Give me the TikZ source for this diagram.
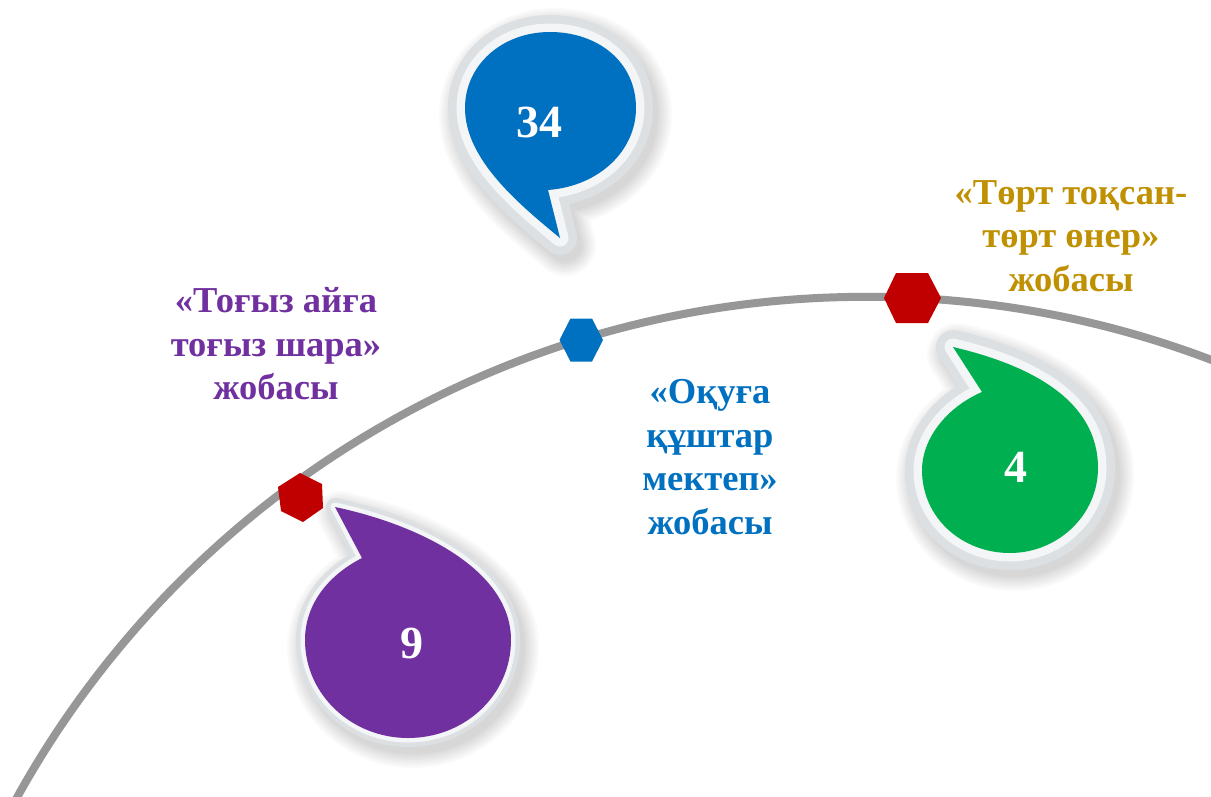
\documentclass[tikz,border=0pt]{standalone}
\usepackage{fontspec}
\setmainfont{Liberation Serif}
\definecolor{arcgray}{HTML}{979797}
\definecolor{bordgray}{HTML}{DCE0E2}
\definecolor{bordlight}{HTML}{F3F5F6}
\definecolor{cblue}{HTML}{0070C0}
\definecolor{cgreen}{HTML}{00B050}
\definecolor{cpurple}{HTML}{7030A0}
\definecolor{cred}{HTML}{C00000}
\definecolor{cgold}{HTML}{BF9000}
\tikzset{
  numtxt/.style={font=\bfseries\fontsize{46}{46}\selectfont, text=white, inner sep=0pt, anchor=base},
  labtxt/.style={font=\bfseries\fontsize{36.5}{43.5}\selectfont, align=center, inner sep=0pt},
  arcline/.style={draw=arcgray, line width=8pt},
  hexred/.style={fill=cred},
  hexblue/.style={fill=cblue},
}
\newcommand\mybubble[3]{%
  \foreach \k in {0,...,7}{%
    \pgfmathsetmacro\lw{2*#3+4*\k}%
    \path[fill=black, fill opacity=0.02, draw=black, draw opacity=0.02, line width=\lw pt, line join=round, shift={(5,7)}] #1;
  }%
  \path[draw=bordgray, line width=2*#3 pt, line join=round] #1;
  \path[draw=bordlight, line width=#3 pt, line join=round] #1;
  \path[fill=#2] #1;
}
\begin{document}
\begin{tikzpicture}[x=1pt,y=-1pt]
\useasboundingbox (0,0) rectangle (1211,796);
\fill[white] (0,0) rectangle (1211,796);
\clip (0,0) rectangle (1211,796);
\coordinate (arccenter) at (866.4,1267.3);
\draw[arcline] (arccenter) circle[radius=970.5pt];
% bubbles
\mybubble{(560,238) -- (548,190) .. controls (600,186) and (636,150) .. (636,108) .. controls (636,62) and (598,32) .. (550,32) .. controls (502,32) and (465,65) .. (465,108) .. controls (465,160) and (520,205) .. (560,238) -- cycle}{cblue}{17}
\mybubble{(953,347) -- (982,392) .. controls (945,408) and (922,440) .. (922,470) .. controls (922,518) and (962,553) .. (1010,553) .. controls (1058,553) and (1098,515) .. (1098,468) .. controls (1098,400) and (1030,365) .. (953,347) -- cycle}{cgreen}{17}
\mybubble{(335,507) -- (362,558) .. controls (325,577) and (305,607) .. (305,640) .. controls (305,695) and (352,738) .. (408,738) .. controls (465,738) and (511,695) .. (511,640) .. controls (511,570) and (420,525) .. (335,507) -- cycle}{cpurple}{9}
% hexagons
\fill[hexblue] (559.5,340) -- (570.5,318.5) -- (592,318.5) -- (603,340) -- (592,361.5) -- (570.5,361.5) -- cycle;
\fill[hexred] (884,298) -- (896,273) -- (928,273) -- (941,298) -- (928,323) -- (896,323) -- cycle;
\fill[hexred] (300,473) -- (322,484) -- (323,508) -- (303,522) -- (281,511) -- (278,487) -- cycle;
% numbers
\node[numtxt] (n34) at (539,137) {34};
\node[numtxt] (n4) at (1016,482) {4};
\node[numtxt] (n9) at (412,658) {9};
% labels
\node[labtxt, text=cpurple] (tpurple) at (276,344) {«Тоғыз айға\\тоғыз шара»\\жобасы};
\node[labtxt, text=cblue] (tblue) at (710,457) {«Оқуға\\құштар\\мектеп»\\жобасы};
\node[labtxt, text=cgold] (tgold) at (1071,236) {«Төрт тоқсан-\\төрт өнер»\\жобасы};
\end{tikzpicture}
\end{document}
